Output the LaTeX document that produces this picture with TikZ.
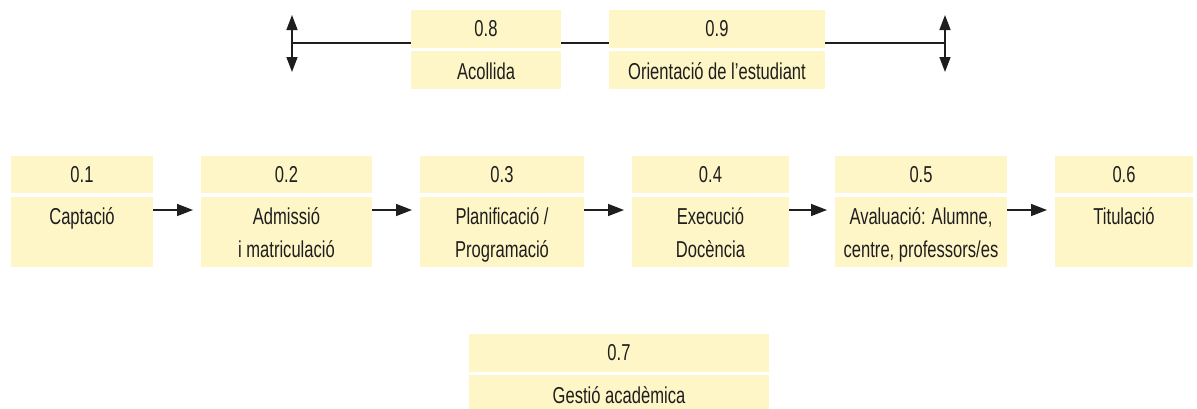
\documentclass[tikz,border=0pt]{standalone}
\usepackage{fontspec}
\setmainfont{Liberation Sans}[FakeStretch=0.72]
\usetikzlibrary{arrows.meta}
\definecolor{boxfill}{RGB}{255,246,199}
\definecolor{ink}{RGB}{30,30,30}
\newcommand\lstrut{\rule[-7pt]{0pt}{32pt}}
\begin{document}
\begin{tikzpicture}[x=1pt,y=-1pt,
  part/.style={fill=boxfill, draw=none, inner sep=0pt, outer sep=0pt, anchor=north west,
    font=\fontsize{23}{33}\selectfont, text=ink, align=center},
  conn/.style={draw=ink, line width=1.5pt},
  arr/.style={conn, -{Triangle[length=16pt,width=12pt]}},
  darr/.style={conn, {Triangle[length=15pt,width=11pt]}-{Triangle[length=15pt,width=11pt]}}
]
\useasboundingbox (0,0) rectangle (1197,408);

% top row
\node[part, minimum width=150pt, minimum height=38pt] (n8) at (411,10) {0.8};
\node[part, minimum width=150pt, minimum height=38pt] (l8) at (411,51) {\lstrut Acollida};
\node[part, minimum width=216pt, minimum height=38pt] (n9) at (609,10) {0.9};
\node[part, minimum width=216pt, minimum height=38pt] (l9) at (609,51) {\lstrut Orientació de l’estudiant};

\coordinate (la1) at (292,15);
\coordinate (la2) at (292,72);
\coordinate (lm) at (292,43);
\coordinate (ra1) at (945,15);
\coordinate (ra2) at (945,72);
\coordinate (rm) at (945,43);
\draw[darr] (la1) -- (la2);
\draw[darr] (ra1) -- (ra2);
\draw[conn] (lm) -- ([yshift=-14pt]n8.west);
\draw[conn] ([yshift=-14pt]n8.east) -- ([yshift=-14pt]n9.west);
\draw[conn] ([yshift=-14pt]n9.east) -- (rm);

% middle row
\node[part, minimum width=142pt, minimum height=37pt] (n1) at (11,156) {0.1};
\node[part, minimum width=142pt, minimum height=70pt] (l1) at (11,197) {\lstrut Captació\\\lstrut};
\node[part, minimum width=171pt, minimum height=37pt] (n2) at (201,156) {0.2};
\node[part, minimum width=171pt, minimum height=70pt] (l2) at (201,197) {\lstrut Admissió\\\lstrut i matriculació};
\node[part, minimum width=164pt, minimum height=37pt] (n3) at (420,156) {0.3};
\node[part, minimum width=164pt, minimum height=70pt] (l3) at (420,197) {\lstrut Planificació /\\\lstrut Programació};
\node[part, minimum width=157pt, minimum height=37pt] (n4) at (632,156) {0.4};
\node[part, minimum width=157pt, minimum height=70pt] (l4) at (632,197) {\lstrut Execució\\\lstrut Docència};
\node[part, minimum width=172pt, minimum height=37pt] (n5) at (835,156) {0.5};
\node[part, minimum width=172pt, minimum height=70pt] (l5) at (835,197) {\lstrut Avaluació: Alumne,\\\lstrut centre, professors/es};
\node[part, minimum width=138pt, minimum height=37pt] (n6) at (1055,156) {0.6};
\node[part, minimum width=138pt, minimum height=70pt] (l6) at (1055,197) {\lstrut Titulació\\\lstrut};

\draw[arr] ([yshift=22pt]l1.east) -- ([xshift=-8pt,yshift=22pt]l2.west);
\draw[arr] ([yshift=22pt]l2.east) -- ([xshift=-8pt,yshift=22pt]l3.west);
\draw[arr] ([yshift=22pt]l3.east) -- ([xshift=-8pt,yshift=22pt]l4.west);
\draw[arr] ([yshift=22pt]l4.east) -- ([xshift=-8pt,yshift=22pt]l5.west);
\draw[arr] ([yshift=22pt]l5.east) -- ([xshift=-8pt,yshift=22pt]l6.west);

% bottom
\node[part, minimum width=300pt, minimum height=38pt] (n7) at (469,334) {0.7};
\node[part, minimum width=300pt, minimum height=38pt] (l7) at (469,375) {\lstrut Gestió acadèmica};
\end{tikzpicture}
\end{document}
